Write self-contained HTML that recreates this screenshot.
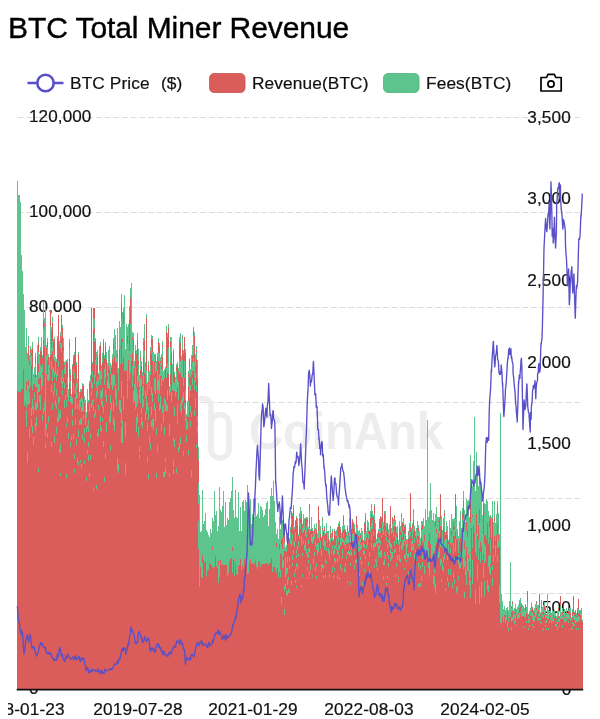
<!DOCTYPE html>
<html><head><meta charset="utf-8"><style>
html,body{margin:0;padding:0;background:#fff;width:600px;height:719px;overflow:hidden}
body{position:relative;font-family:"Liberation Sans",sans-serif;color:#000}
.t,.lg,.yl,.yr,.xlw{will-change:transform}
.t{position:absolute;left:8px;top:13px;font-size:30px;line-height:30px;letter-spacing:-0.08px;white-space:nowrap;color:#000;-webkit-text-stroke:0.4px #000}
.lg{position:absolute;top:75px;-webkit-text-stroke:0.2px #111;font-size:16px;line-height:18px;letter-spacing:0.1px;transform:scaleX(1.08);transform-origin:0 50%;white-space:nowrap;color:#111}
.yl,.yr{position:absolute;-webkit-text-stroke:0.2px #111;font-size:16.5px;line-height:16.5px;white-space:nowrap;color:#111;letter-spacing:0.1px}
.yl{transform:scaleX(1.035);transform-origin:0 50%}
.yr{text-align:right;transform:scaleX(1.04);transform-origin:100% 50%}
.xlw{position:absolute;left:8.3px;top:0;width:592px;height:719px;overflow:hidden}
.xl{position:absolute;top:702.2px;-webkit-text-stroke:0.2px #111;width:120px;margin-left:-8.3px;text-align:center;font-size:16.6px;line-height:16.6px;letter-spacing:0.1px;white-space:nowrap;color:#111;transform:scaleX(1.04)}
svg{position:absolute;left:0;top:0}
</style></head><body>
<div class="t">BTC Total Miner Revenue</div>
<svg width="600" height="719" viewBox="0 0 600 719">
<line x1="27.5" y1="83" x2="63.5" y2="83" stroke="#5a50c8" stroke-width="2.6"/>
<circle cx="45.5" cy="83" r="8.2" fill="#fff" stroke="#5a50c8" stroke-width="2.6"/>
<rect x="209.5" y="73.5" width="35.5" height="19" rx="4.5" fill="#da5d5b" stroke="#c95250" stroke-width="0.8"/>
<rect x="383.5" y="73.5" width="35.5" height="19" rx="4.5" fill="#5cc48c" stroke="#50b07c" stroke-width="0.8"/>
<g fill="none" stroke="#000" stroke-width="1.7" stroke-linejoin="round">
<path d="M541 77.5H546.5L548 74.3H554.3L555.8 77.5H561.2V91H541Z"/>
<circle cx="551" cy="84" r="3.1"/>
</g>
<g stroke="#dcdcdc" stroke-width="1" stroke-dasharray="6 2.7"><line x1="17.5" y1="117.5" x2="580" y2="117.5"/><line x1="17.5" y1="212.5" x2="580" y2="212.5"/><line x1="17.5" y1="307.5" x2="580" y2="307.5"/><line x1="17.5" y1="402.5" x2="580" y2="402.5"/><line x1="17.5" y1="498.5" x2="580" y2="498.5"/><line x1="17.5" y1="593.5" x2="580" y2="593.5"/></g>
</svg>
<div class="lg" style="left:70.2px">BTC Price</div>
<div class="lg" style="left:161.2px">($)</div>
<div class="lg" style="left:252.2px">Revenue(BTC)</div>
<div class="lg" style="left:426.2px">Fees(BTC)</div>
<div class="yl" style="left:28.7px;top:107.55px">120,000</div><div class="yl" style="left:28.7px;top:202.85px">100,000</div><div class="yl" style="left:28.7px;top:298.25px">80,000</div><div class="yl" style="left:28.7px;top:679.55px">0</div><div class="yr" style="right:29.2px;top:108.55px">3,500</div><div class="yr" style="right:29.2px;top:190.25px">3,000</div><div class="yr" style="right:29.2px;top:271.95px">2,500</div><div class="yr" style="right:29.2px;top:353.65px">2,000</div><div class="yr" style="right:29.2px;top:435.45px">1,500</div><div class="yr" style="right:29.2px;top:517.15px">1,000</div><div class="yr" style="right:29.2px;top:598.85px">500</div><div class="yr" style="right:29.2px;top:680.55px">0</div>
<svg width="600" height="719" viewBox="0 0 600 719">
<g fill="none" stroke="#ededed" stroke-width="5.6" stroke-linecap="round">
<path d="M201 398.5H203A8 8 0 0 1 211 406.5V449A9 9 0 0 0 229 449V423.5A9 9 0 0 0 211 423.5"/>
</g>
<text x="249" y="448.8" font-family="Liberation Sans" font-weight="bold" font-size="52" fill="#ededed" textLength="194" lengthAdjust="spacingAndGlyphs">CoinAnk</text>
<g>
<path d="M17 689V386H18V386H19V386H20V386H21V383H22V383H23V337.8H24V350.9H25V363.5H26V343.6H27V360.3H28V344.5H29V360.7H30V349.6H31V353H32V347.6H33V383.3H34V378.6H35V357H36V378H37V349.4H38V343.2H39V362.7H40V350.9H41V347.8H42V357.6H43V309H44V322.5H45V326.7H46V348.4H47V341.8H48V356.5H49V360.1H50V310H51V330.7H52V322.5H53V341.7H54V339H55V361.6H56V361.5H57V338.8H58V315H59V344.3H60V335.5H61V315H62V328.4H63V346.5H64V364.6H65V366H66V362.3H67V363H68V391.1H69V342.6H70V371.1H71V396.3H72V366.2H73V357.5H74V354.9H75V337H76V365.2H77V381.6H78V353.7H79V396.1H80V391.6H81V391.1H82V386.1H83V386H84V400.5H85V401.6H86V416.1H87V398.8H88V402.9H89V384.3H90V381.1H91V308H92V364.4H93V308H94V308H95V340.5H96V354.5H97V355.5H98V375.1H99V350.6H100V344.7H101V367H102V356.1H103V341.5H104V358.2H105V346.1H106V355.2H107V373.5H108V354.6H109V349.5H110V367H111V367.7H112V358.8H113V342.8H114V339.9H115V352.5H116V360.5H117V333.5H118V380.9H119V335.5H120V334.8H121V302.9H122V324.8H123V313.4H124V333.5H125V366.9H126V344.5H127V335.5H128V335.3H129V319.2H130V297.7H131V334.8H132V336.7H133V339.8H134V367.6H135V351H136V353.6H137V340.3H138V358H139V382.8H140V357.3H141V365.8H142V376.4H143V341.8H144V328H145V365H146V317.7H147V394.3H148V364.8H149V376.5H150V351.2H151V338.5H152V339H153V355.6H154V357.4H155V356.4H156V364.9H157V356.8H158V342.2H159V346.7H160V360.7H161V357.7H162V344.9H163V374.6H164V373.9H165V369H166V331.9H167V337.1H168V328.1H169V388.1H170V341.9H171V342.1H172V374.9H173V351.9H174V374.5H175V381.6H176V366.8H177V365.4H178V371.3H179V341H180V336H181V361.1H182V337.4H183V354.2H184V337H185V352.7H186V416.8H187V405.6H188V373.9H189V361H190V373.2H191V362.3H192V354.6H193V329.9H194V336.2H195V357H196V349.8H197V365H198V457.7H199V581H200V561.6H201V552.3H202V541.1H203V543.7H204V541.9H205V546.3H206V550.6H207V547.2H208V550H209V554.9H210V540.1H211V547.2H212V541.8H213V541.1H214V547.6H215V545.1H216V544.7H217V553H218V541.1H219V532.8H220V549.9H221V532.6H222V542.9H223V538.3H224V550.8H225V550.9H226V548.3H227V550.5H228V554.7H229V548H230V545.3H231V543.2H232V540.7H233V541.7H234V554.5H235V545.6H236V543.4H237V549.8H238V552.9H239V555.5H240V554.9H241V559.5H242V558.5H243V551.4H244V554.4H245V546.8H246V549.1H247V550.3H248V547.7H249V554.3H250V554.6H251V559H252V561.2H253V561.1H254V561.6H255V559H256V557.8H257V559.6H258V557H259V558.1H260V559.8H261V562.1H262V563.1H263V563H264V563H265V563.4H266V562.4H267V561.3H268V560.2H269V557H270V554.2H271V550.8H272V541.8H273V540H274V536.2H275V548.5H276V542.8H277V550.4H278V543.9H279V523.6H280V535.7H281V527.5H282V529.3H283V533.4H284V534.1H285V550.7H286V549.7H287V536.1H288V532H289V539.5H290V529.7H291V512.2H292V516H293V507.7H294V528.7H295V521.3H296V518H297V521H298V535.6H299V518.2H300V511.4H301V514.2H302V525.1H303V519.4H304V520.1H305V519.4H306V518.6H307V519.8H308V528.6H309V504H310V531.3H311V520.6H312V530.8H313V533.2H314V528.1H315V532.3H316V529.1H317V534.3H318V506H319V525.5H320V528.1H321V538.8H322V518.9H323V531.8H324V527.9H325V535H326V524.7H327V531.9H328V533.3H329V542.1H330V532.5H331V538.4H332V530.7H333V540.6H334V530.8H335V533.7H336V535.6H337V528.3H338V525.5H339V524H340V529.4H341V537.2H342V528.1H343V517.1H344V529H345V531.3H346V534.7H347V528H348V533.2H349V522H350V543.1H351V531.4H352V520.4H353V523.8H354V528.7H355V534.9H356V516H357V531.4H358V534H359V534.6H360V535.1H361V531.7H362V536.1H363V541.4H364V523.8H365V515.9H366V534.9H367V523H368V523.2H369V531.3H370V512.8H371V506H372V513H373V517.1H374V506.2H375V525.7H376V542.1H377V534.8H378V531H379V521.4H380V517.2H381V519.4H382V498H383V523.6H384V513.6H385V519.6H386V529.5H387V524.6H388V530.7H389V527.8H390V506H391V529.6H392V518.4H393V524.3H394V516.1H395V521.7H396V528.7H397V529.1H398V541.2H399V523.3H400V530H401V515.2H402V523.4H403V522.2H404V526.8H405V525.8H406V540.2H407V543.8H408V533.3H409V525.1H410V493H411V529.7H412V525H413V511.2H414V529.1H415V533.2H416V531.4H417V522H418V527.7H419V537.8H420V540.1H421V527.2H422V524.5H423V520.5H424V529.3H425V516H426V526.6H427V521.8H428V528H429V527.8H430V522.8H431V526H432V529H433V524.4H434V531.7H435V520.8H436V511H437V525.9H438V521H439V519.1H440V494H441V518.6H442V532.9H443V521.1H444V512.8H445V534.9H446V527H447V533.7H448V542.4H449V522.8H450V532.1H451V518.9H452V522.2H453V522.4H454V524.1H455V494H456V510.2H457V534.4H458V539.1H459V523.9H460V517.1H461V535.5H462V514.4H463V500.6H464V515.5H465V535H466V521.3H467V521.4H468V513.7H469V549.9H470V496.9H471V493.4H472V498.9H473V505.3H474V499.6H475V510.1H476V495.3H477V516.8H478V510.8H479V504.7H480V512.1H481V501.8H482V524.3H483V504.4H484V513.4H485V522.5H486V507.2H487V516.5H488V523.9H489V520.7H490V518.3H491V522.3H492V510.8H493V525.4H494V515.8H495V528.2H496V520.3H497V505.3H498V521H499V542.9H500V617H501V619H502V607.8H503V614.4H504V611.6H505V613.8H506V610.8H507V610.1H508V611.5H509V607H510V607.3H511V607.3H512V602.2H513V611.3H514V609.5H515V608.4H516V612.3H517V610.3H518V608.9H519V601.5H520V599.9H521V603.7H522V607.8H523V607.8H524V610.4H525V605.5H526V610.5H527V591H528V615.4H529V612.6H530V609.7H531V604.8H532V607.8H533V611H534V611.1H535V607.1H536V602.4H537V606.8H538V606.9H539V594H540V612.9H541V601.8H542V608.3H543V606H544V604.8H545V607.5H546V615.1H547V610.4H548V611.2H549V611.8H550V612.7H551V613.2H552V611.9H553V613.6H554V613.9H555V615.1H556V616.8H557V612.3H558V607.9H559V616.7H560V596H561V613.5H562V611H563V611.9H564V612H565V613.9H566V611.5H567V614.6H568V610.8H569V610.3H570V610.3H571V618.1H572V610.6H573V596H574V613.2H575V611.4H576V614H577V609.9H578V599H579V611.8H580V611.7H581V610.6H582V622.4H583V689Z" fill="#da5d5b" shape-rendering="crispEdges"/>
<path d="M17.5 181V390.5M18.5 195V392M19.5 195V390.5M20.5 202V392M21.5 255V389M22.5 271V389M23.5 293.5V369.2M24.5 309.6V405.6M25.5 347.1V402.6M26.5 328.4V352.6M26.5 354V381.9M26.5 390.5V407.6M26.5 409.8V426.6M27.5 352.6V382.2M27.5 383.1V404.9M27.5 452.1V463M28.5 335.9V344.5M28.5 361.1V380.2M28.5 385.7V403.7M29.5 355.1V360.7M29.5 365.1V387.6M29.5 392.8V403.8M29.5 428.4V438.4M30.5 346.2V349.6M30.5 352.9V385.7M31.5 349.1V353M31.5 355.9V366.4M31.5 407.7V416.3M31.5 418.6V427.2M32.5 342.3V347.6M32.5 368.7V389.8M32.5 399.4V409.2M32.5 425.5V433.3M33.5 374.1V385.3M33.5 406.4V414M33.5 436.5V445.4M34.5 366.8V384.1M34.5 392V399.7M35.5 353.3V357M35.5 362.7V374.1M35.5 377.6V386.6M35.5 401.8V409.7M35.5 423.3V430.6M36.5 374.7V386.8M36.5 403.4V410.4M36.5 417V425.7M37.5 344.7V356.4M37.5 377.2V388M37.5 388.8V407.6M38.5 337V343.2M38.5 352.1V363.5M38.5 371.7V379.4M38.5 383.8V392.4M38.5 468.2V472.3M39.5 354.2V378.3M39.5 383.8V392M39.5 394.8V402.2M40.5 347.1V350.9M40.5 365V376.8M40.5 394.8V409.8M41.5 336.7V351.5M41.5 367.1V389.8M42.5 354.7V357.6M42.5 364.1V373.4M42.5 375V386.2M42.5 415.1V421.1M43.5 302.4V319.9M43.5 329.4V340.3M43.5 407.8V414.3M44.5 318.3V322.5M44.5 327.4V345.8M44.5 401.2V410.5M45.5 308V436.4M45.5 443.2V447.8M46.5 345.2V348.4M46.5 356.4V373.5M46.5 423.7V429.2M47.5 337.5V341.8M47.5 346.5V360.3M47.5 373.5V379.9M47.5 432.6V438M48.5 354.4V356.5M48.5 365V380.9M48.5 415.9V422.7M49.5 356.6V368.2M49.5 369.3V379.9M50.5 309.6V310M50.5 326.1V354.6M51.5 326.8V330.7M51.5 346.6V354.2M51.5 360.5V369.4M51.5 384.9V392.1M51.5 441.9V447.4M52.5 317.4V322.5M52.5 340.5V351.3M52.5 368.8V380.7M52.5 403.2V410.4M53.5 338.9V341.7M53.5 349.3V358.7M53.5 366.6V372.9M53.5 390.5V397.4M54.5 336.9V339M54.5 355.3V360.8M54.5 371.9V378M54.5 383.1V391M54.5 435.8V442.8M55.5 357.2V374.5M55.5 399.7V406.3M56.5 358.8V361.5M56.5 373.7V381.1M56.5 388.7V395.9M56.5 403.7V409M56.5 427.4V433.7M57.5 336.1V338.8M57.5 369.2V376.4M57.5 416.8V423.1M58.5 314.6V315M58.5 361.4V366.6M58.5 397V403.5M58.5 409.3V414.5M58.5 415V421.3M59.5 340.5V344.3M59.5 397.2V402.4M59.5 413.3V419.6M59.5 449V453.1M60.5 331.5V335.5M60.5 343.4V348.2M60.5 409.8V417.5M60.5 443.7V451.7M60.5 472.5V475.5M61.5 314.6V315M61.5 330.5V337.6M61.5 342.8V352.3M61.5 377.3V383.7M62.5 324.7V328.4M62.5 369.7V378.1M62.5 381.2V388.3M62.5 389.8V394.9M63.5 337.9V346.6M63.5 351.4V361.4M63.5 378V383.1M64.5 362.3V364.6M64.5 366.5V373.6M64.5 382.5V388.9M64.5 400.4V408.3M65.5 360.8V373.5M65.5 395.3V400.4M66.5 359.9V362.3M66.5 399.7V406.7M66.5 422.9V426.8M66.5 474.2V477.5M67.5 358.9V363M67.5 376.7V385.3M67.5 387.4V396.8M67.5 416.9V422.4M68.5 388.8V401.1M68.5 432.7V439M69.5 339.2V342.6M69.5 347.2V358.7M69.5 376.7V382.6M70.5 368.7V375.3M70.5 381.2V387.5M70.5 396.2V401.8M70.5 441.7V447.4M71.5 393.5V403.6M71.5 436.3V439.5M72.5 364.4V366.2M72.5 397.7V403.6M72.5 408.6V416.1M72.5 420.3V426.2M73.5 354.7V357.5M73.5 368.9V374M73.5 382.8V393.1M73.5 434V439M74.5 352V354.9M74.5 373V379.3M74.5 454.1V458.5M74.5 468.9V473.4M75.5 336.6V337M75.5 387V393.8M75.5 397.4V409M75.5 418.8V425M76.5 362.4V365.2M76.5 383.1V391.2M76.5 391.8V399.1M76.5 438.6V445.3M77.5 379.4V381.6M77.5 382.2V386.7M77.5 393.2V397.8M77.5 403.4V409.4M77.5 458V462.6M78.5 351.9V353.7M78.5 429.9V436.5M78.5 461.9V464.9M79.5 392.2V398.2M79.5 399.6V410M79.5 420.2V425.2M80.5 389.4V391.6M80.5 398.9V406.5M80.5 419.3V424.1M80.5 459.8V463.1M81.5 389.4V391.1M81.5 397.4V402M81.5 407.3V412.2M81.5 416.8V425M81.5 464.1V467.8M82.5 383.4V386.1M82.5 399.2V410.8M82.5 434.3V439.8M83.5 383.6V386M83.5 401.5V412.4M83.5 414.5V419.2M84.5 395.9V402.8M84.5 427.5V434M84.5 437.2V442.9M84.5 460.1V464.4M85.5 399.7V401.6M85.5 402.3V412.9M85.5 413.3V424.7M86.5 411.7V417.5M86.5 426.7V431.9M86.5 477.3V480.9M87.5 389.1V402.7M87.5 425.3V428.7M87.5 449.5V454M88.5 400.4V402.9M88.5 420.2V424.8M88.5 426.1V431.6M88.5 441.8V447.3M88.5 455.1V461.2M89.5 381.3V384.3M89.5 393.9V400.9M89.5 404.3V411.8M89.5 473.1V476.7M90.5 375.4V381.6M90.5 434.3V438.6M90.5 455.3V459.6M91.5 307.6V308M91.5 381.2V387.6M91.5 390.2V395.9M91.5 403V407.6M92.5 361.6V364.4M92.5 370.5V376.9M92.5 382.9V389.3M92.5 399.5V405.3M93.5 307.6V308M93.5 318.2V329.9M93.5 398.5V402.1M93.5 405.8V410.6M93.5 487.4V491.4M94.5 307.6V308M94.5 319.4V327.5M94.5 333.9V342.1M94.5 374.5V384.2M94.5 414.3V418.3M95.5 338V340.5M95.5 359.7V376.8M95.5 409.9V415.4M96.5 351.7V354.5M96.5 355.9V364.9M96.5 381.6V388.1M96.5 391.3V398.1M96.5 484.6V488.7M97.5 349.6V355.9M97.5 377.2V384M97.5 387.2V394.5M97.5 432.6V437.1M98.5 372.8V375.1M98.5 379.8V386.2M98.5 405.2V410.1M98.5 429.1V435.6M99.5 345.6V353.8M99.5 370.3V379.7M100.5 341.9V344.7M100.5 371.4V384.6M100.5 390.7V398.6M100.5 416.1V421.7M100.5 424.8V430.8M101.5 365.4V367M101.5 367.8V378.6M101.5 390.5V396.9M101.5 398.3V404.9M101.5 427.5V431.7M102.5 353.3V363.1M102.5 388.3V398M102.5 400.8V407.4M102.5 417.9V421.4M103.5 338.5V341.5M103.5 406.1V412.6M103.5 440.7V446.6M104.5 354.8V358.2M104.5 368.9V384.5M104.5 476.5V481.8M105.5 341.8V346.1M105.5 364.2V378M105.5 390.4V395.8M105.5 453.5V458.5M106.5 351.7V360.2M106.5 394.6V401.8M106.5 422.2V432.2M107.5 362.6V375.7M107.5 379.9V388.3M108.5 349.5V365.7M108.5 372.8V388.2M109.5 346V349.5M109.5 351V370.4M109.5 383V389.9M109.5 416V423M110.5 362.7V374M110.5 395V402.9M110.5 409.5V421.5M110.5 445.3V451.4M111.5 364.6V367.7M111.5 374.4V384.6M111.5 402V410.9M112.5 353.9V358.8M112.5 374.8V390.2M113.5 338V342.8M113.5 348.6V361.8M113.5 373.9V386.5M113.5 401.1V411.2M113.5 417V424.8M114.5 329V356.1M114.5 375.4V384.5M114.5 420.4V430.6M115.5 335.4V362.8M115.5 384.4V398.8M116.5 349.9V362.1M116.5 390.2V406.3M117.5 328V354.1M117.5 358V371.7M117.5 457.7V470.3M118.5 367.7V391.2M118.5 463.9V473M119.5 321.3V348.9M119.5 400V409.9M120.5 326.5V346.8M120.5 347.5V364.4M120.5 400.4V413.2M121.5 293.6V302.9M121.5 318.9V339.4M121.5 380.6V397.9M121.5 409.1V422.9M121.5 426.5V442.8M122.5 312.3V338.8M122.5 341.6V363.1M122.5 421.3V442.5M123.5 307.5V313.4M123.5 323.7V357.2M123.5 396V410.4M124.5 295V371.1M125.5 349.2V370.8M125.5 422V436.7M125.5 462.7V474.5M126.5 324.1V370M127.5 326.9V335.5M127.5 343.9V382.1M127.5 382.5V399.3M128.5 324.2V360.2M129.5 306.3V319.8M129.5 351.2V379.8M130.5 287.9V297.7M130.5 323.9V354.8M130.5 357.1V373.4M131.5 283V361.3M132.5 331.5V336.7M132.5 339.6V352.7M132.5 365.6V386.6M133.5 333.2V339.8M133.5 349.6V374.9M133.5 391.3V403.2M134.5 361.4V367.6M134.5 384.1V401.1M135.5 345.2V351M135.5 366.9V409.4M136.5 349.8V353.6M136.5 388.2V406.8M136.5 417.2V431.8M137.5 332.8V340.3M137.5 375.8V387.1M137.5 394.4V403.6M137.5 413.3V423M138.5 349.2V361.2M138.5 364.9V380.9M138.5 426.8V436.9M139.5 375.3V387.1M139.5 388.8V399.4M139.5 445.8V452M139.5 454.7V459.4M140.5 351.4V357.3M140.5 361.3V369.9M140.5 379.4V392M140.5 392.6V403.2M141.5 361V365.8M141.5 377.2V385.8M141.5 407.6V413.9M141.5 417.3V425.1M142.5 371.9V376.4M142.5 387.3V400.5M142.5 401.1V407.9M142.5 421.6V428.3M143.5 338.4V341.8M143.5 344.9V356.5M143.5 375.3V383.5M143.5 384.5V396.2M143.5 398.9V407M144.5 324.2V339.7M144.5 351.3V373.1M145.5 361.9V365M145.5 365.5V373.5M145.5 389.5V398.3M145.5 411.8V420.1M146.5 313.9V317.7M146.5 371.4V383.5M146.5 396.4V413.7M147.5 382.3V394.8M147.5 403.2V410.3M147.5 423.3V431.4M147.5 456.5V462.2M148.5 361.1V364.8M148.5 371.9V381.1M148.5 406.8V420.2M148.5 473.7V479M149.5 371V380.6M149.5 380.7V389.4M149.5 435.6V442.5M150.5 346.6V351.2M150.5 365.2V375.4M150.5 443.2V449.6M151.5 335.1V338.5M151.5 345V353.7M151.5 386.5V395.4M151.5 406.7V414.5M151.5 420.9V426.9M152.5 335.8V339M152.5 352.4V361.3M152.5 393V402.1M152.5 419V426.6M153.5 352V375.3M153.5 418.9V429.5M154.5 353.8V361.9M154.5 378.1V391.3M154.5 402.7V410.3M155.5 353.5V356.4M155.5 363V373.1M155.5 378.5V393.7M155.5 409.4V421M156.5 361.4V370.7M156.5 427.5V435M156.5 472.9V478.2M157.5 352.5V356.8M157.5 370.1V393M157.5 444.9V451.5M158.5 338.4V342.2M158.5 353V361M158.5 380.3V389.6M158.5 393.5V402M159.5 342.8V346.7M159.5 353.3V363.4M159.5 373.9V381.5M159.5 382.1V393.6M159.5 403.6V410.7M160.5 357.3V360.7M160.5 363.3V375.8M160.5 395.7V408.9M161.5 353.7V365.2M161.5 368.5V376.1M161.5 377.6V386M161.5 424.2V431.1M162.5 340.6V344.9M162.5 346.5V357.1M162.5 369.5V379.9M162.5 405.9V412.5M163.5 370.5V374.6M163.5 375V382.4M163.5 404.1V412.6M163.5 414.4V423.1M163.5 471.6V476.8M164.5 368.6V378.1M164.5 398.2V403.5M164.5 427V435M164.5 472.3V477.3M165.5 366.5V369M165.5 399.6V410.6M165.5 457.7V461.6M165.5 467.4V474.2M166.5 326.3V331.9M166.5 368.4V377.7M166.5 402.9V410.9M167.5 332.6V337.1M167.5 363.8V372.5M167.5 389.5V400.3M167.5 405.2V410.5M168.5 323.7V328.1M168.5 348.3V373.7M169.5 385.6V395.1M169.5 424.1V435.9M169.5 472.8V477.3M170.5 336.9V341.9M170.5 347.4V362.6M170.5 365.2V374M170.5 384.6V392M171.5 336.5V352.7M171.5 392V401.7M172.5 364.4V389.5M173.5 349.3V351.9M173.5 381.5V391.3M173.5 437.5V441.3M173.5 459.9V466.8M173.5 469.4V473.9M174.5 371.5V374.5M174.5 383.4V391.4M174.5 406.9V416.2M174.5 439.5V446.6M175.5 377.3V385.1M175.5 385.6V396.1M176.5 364.1V366.8M176.5 371.4V392.1M176.5 468.2V472.7M177.5 362.4V365.4M177.5 378.9V386.8M177.5 403.7V416.6M177.5 417.9V423.9M178.5 368.3V371.3M178.5 382.3V400.3M178.5 446.5V451.7M179.5 336.9V341M179.5 358.6V374.2M179.5 443.3V448.8M180.5 333.2V343.2M180.5 360.6V371.5M180.5 403.5V411.3M180.5 436.6V444.2M181.5 356.4V366.4M181.5 366.5V376.6M181.5 399.6V406.6M181.5 407.8V414.1M182.5 334.8V337.4M182.5 338.4V350.1M182.5 360.3V377.3M182.5 397.2V403M183.5 350.3V354.2M183.5 376.9V385.9M183.5 392V401.3M183.5 450.8V455.7M184.5 336.6V337M184.5 360.6V377.5M184.5 402.7V408.8M185.5 348.7V352.7M185.5 390.5V400.3M185.5 404.9V421M186.5 414.2V416.8M186.5 418.5V430.3M186.5 434.7V441.5M187.5 401.2V416M187.5 422V429.4M188.5 370.6V373.9M188.5 377.1V386.3M188.5 401.3V416.6M188.5 449.5V454.5M189.5 357.7V361M189.5 367.1V377.3M189.5 384.5V398M190.5 368.9V377.2M190.5 385.2V391.1M190.5 406V411.9M190.5 421V427.1M191.5 355.3V364.3M191.5 365.7V375.3M191.5 411.7V417.1M191.5 469.7V476.8M192.5 345.4V355.5M192.5 361.6V371.1M192.5 378V384.5M193.5 327.1V329.9M193.5 335.1V355.2M193.5 357.9V370.7M194.5 332.1V336.2M194.5 361.8V377.9M194.5 379.8V389.5M194.5 410.3V415.7M195.5 354.3V365.7M195.5 373.2V381.5M195.5 398V408.4M196.5 346.3V349.8M196.5 351.9V359.3M196.5 384.8V392.1M196.5 443.7V447.5M197.5 360.4V368.6M197.5 369.3V378.8M197.5 416V422M197.5 426.1V432.5M198.5 447.1V459.9M198.5 482.5V504.2M198.5 520.8V548.9M199.5 495V587M200.5 532.2V567.1M201.5 530.8V576.9M202.5 490V555.1M202.5 563.2V577.5M203.5 523.9V559.6M204.5 521.1V563M205.5 513.2V561.3M206.5 530.1V576.2M207.5 531.8V571.1M208.5 535.1V569.6M209.5 537.3V561.8M210.5 528.6V563.5M211.5 533.2V565.1M212.5 518.2V546.9M212.5 549.8V567.2M213.5 521V568.2M214.5 491V567.3M215.5 515V555.6M216.5 511.4V566.1M217.5 530.9V567.6M218.5 525.8V561.2M218.5 565.4V583.2M219.5 487.3V576.8M220.5 509.7V560.3M221.5 511.7V564.7M222.5 505.6V563.7M223.5 490.5V564.8M224.5 527.4V565.2M225.5 502.4V565.4M226.5 525.1V565.1M227.5 517.7V575.5M228.5 520V572.6M229.5 501.6V561.1M230.5 498.4V559.3M231.5 491V557.7M232.5 477.2V546.6M232.5 551.3V572.8M233.5 509.5V560.2M234.5 517.7V558.8M234.5 561V576.1M235.5 490V562.8M236.5 517.1V574M237.5 517.7V574.7M238.5 492.1V566.3M239.5 530.5V565.3M240.5 507V558.6M241.5 531.2V569.7M242.5 502.2V566M243.5 499.7V567.7M244.5 511.3V559.1M245.5 500V564.9M246.5 501.7V556.7M247.5 485V573.7M248.5 496.8V572.6M249.5 509.5V561.7M250.5 499.3V558.8M251.5 524.4V563.7M252.5 514.4V563.3M253.5 499V564.4M254.5 516.6V564M255.5 497.5V561.3M256.5 515.6V567M257.5 513.9V569.2M258.5 503.4V561.8M259.5 518.3V561.1M260.5 506.3V567.1M261.5 506.7V563.9M262.5 509.5V563.7M263.5 516.6V563.7M264.5 514.6V564.3M265.5 508.8V563.6M266.5 503.4V563.2M267.5 500.5V564.2M268.5 526V564.9M269.5 509.2V563M270.5 495.5V563.2M271.5 488.2V557.9M272.5 495.9V572M273.5 481V567M274.5 501.3V567.4M275.5 522.3V569.5M276.5 533.8V542.8M276.5 547.4V572.7M277.5 528.6V567.6M278.5 539.2V578.2M279.5 517.1V543.8M279.5 549.4V571.7M280.5 529.4V541.1M280.5 541.4V554.1M280.5 569.5V576.7M281.5 515.6V540.4M281.5 544V553.9M281.5 597.1V603.5M282.5 520.3V537.8M282.5 549.4V558.3M282.5 559V568.1M283.5 520V533.4M283.5 538.1V555.8M283.5 559.6V568.2M284.5 531.6V534.1M284.5 542.9V551M284.5 585.8V591M284.5 609.2V615.1M285.5 547.3V550.7M285.5 556.7V565.7M285.5 565.9V577.7M285.5 584.2V589M286.5 545.2V552.4M286.5 568.4V575.3M286.5 589.8V594.8M287.5 533.2V536.1M287.5 557.1V563M287.5 568V572.9M287.5 579.3V585M287.5 591.1V595.5M288.5 526.2V537.6M288.5 576.6V579.7M288.5 589.4V592.9M289.5 538.1V539.5M289.5 556.6V560.7M289.5 565.4V569.1M289.5 589.4V593.4M290.5 527.3V529.7M290.5 532.2V544.4M291.5 510.6V512.2M291.5 519.4V524.1M291.5 540V546.2M291.5 581V584.9M292.5 513.3V516M292.5 533.8V539.6M292.5 554.9V560.1M292.5 563.1V566.4M293.5 505.4V507.7M293.5 526.1V530.3M293.5 541.2V544.5M293.5 550V554M294.5 526.7V528.7M294.5 541V546.5M294.5 573V576.6M295.5 519.8V521.3M295.5 532.2V536.9M295.5 537.1V541.3M295.5 568.8V572.1M295.5 580.2V582.7M296.5 515.9V518M296.5 550.4V554.2M296.5 555.4V558.1M296.5 563.3V567.1M296.5 586.1V588.1M297.5 518V524.5M297.5 545.8V550.2M297.5 564.4V568.8M298.5 533.9V535.6M298.5 540.7V546.8M298.5 553.9V557.1M299.5 513.3V519M299.5 520.5V526.4M299.5 534.9V539.3M300.5 506.9V518.5M300.5 523.9V529.3M301.5 511V514.2M301.5 535.7V540.5M301.5 540.9V545M301.5 584.7V587.3M302.5 523.5V525.1M302.5 527.7V533.2M302.5 552.5V556.1M302.5 574.1V577.2M303.5 514.2V520.9M303.5 524.9V532M303.5 539.5V544.3M304.5 517.7V530.4M304.5 544.8V549.5M305.5 518V519.4M305.5 529.9V536.1M305.5 540.5V550.6M306.5 516.5V518.6M306.5 526.7V533.4M306.5 533.5V537.6M306.5 549.3V553.5M307.5 517.2V519.8M307.5 522.1V528.8M307.5 552.2V557.2M307.5 567.2V569.8M307.5 576.9V579.4M308.5 527.1V528.6M308.5 540.2V544.1M308.5 547.9V551.5M308.5 553.7V557.7M308.5 560.1V562.5M309.5 503.6V504M309.5 510V517.9M309.5 528.3V533.3M309.5 547.9V552.9M309.5 570.6V575M310.5 529.2V531.3M310.5 563.5V569.8M311.5 516.9V528.6M311.5 534.4V541.9M312.5 528.2V530.8M312.5 536.6V543.6M312.5 574.8V577.4M313.5 530.6V541.8M313.5 558.6V563.7M314.5 523.5V528.7M314.5 533.5V539M314.5 552V556.4M315.5 527.7V533.7M315.5 540.5V545.7M315.5 567.1V570.5M316.5 522.8V529.9M316.5 544.9V549.6M316.5 563.3V566.7M316.5 576.1V578.5M317.5 532.8V538.7M317.5 542.6V546.8M317.5 548.3V554.7M318.5 505.6V506M318.5 531.4V538M318.5 543.4V551.6M319.5 519.7V541.2M320.5 526.2V533.8M320.5 541V549.3M321.5 537.1V538.8M321.5 549.6V555.6M321.5 563.9V566.8M321.5 567.5V571.8M322.5 516.8V518.9M322.5 520.1V527.5M322.5 529.8V535.5M322.5 564.5V567.5M323.5 530V531.8M323.5 536.9V540.5M323.5 540.9V545.4M323.5 565.1V569M323.5 574.9V578.1M324.5 525.5V527.9M324.5 530.7V535.3M324.5 539.7V549.6M325.5 533.2V535M325.5 540.8V546.7M325.5 559.2V561.7M325.5 575.4V578M326.5 522.6V532.9M326.5 547.4V550.6M326.5 561V564.1M327.5 530.5V542.5M328.5 530.6V537.6M328.5 548.4V554.1M329.5 540.2V542.1M329.5 543.4V547.1M329.5 550.4V558.6M329.5 574.3V577.8M330.5 525.8V533.9M330.5 537.7V543M331.5 532.8V538.8M331.5 550.7V554M332.5 528.7V530.7M332.5 536.8V541.1M332.5 544.7V550.4M332.5 567V570.2M332.5 570.8V573.2M333.5 538.7V540.6M333.5 549.9V554.8M333.5 564.7V567.1M333.5 574.6V577.6M334.5 529.2V530.8M334.5 545.1V549.2M334.5 549.9V554.3M334.5 557.9V561.2M334.5 567.5V571.3M335.5 531.1V536M335.5 546.1V549.2M335.5 559.3V563.1M336.5 529.9V536.2M336.5 538.5V541.7M336.5 542.2V545.5M336.5 547.1V549.9M337.5 526.6V528.3M337.5 533.8V538.9M337.5 550.3V554.3M337.5 557.9V561.9M337.5 575.3V578.7M338.5 523.4V525.5M338.5 536.7V542.2M338.5 544.7V551.4M338.5 552.1V554.7M339.5 521.2V524M339.5 544.5V548.7M339.5 555.9V559.3M339.5 577V579.6M340.5 527V529.4M340.5 537.6V545.6M340.5 563.9V569.2M341.5 533.2V537.6M341.5 537.9V540.5M341.5 541.8V544.8M341.5 567.7V571.4M342.5 525.6V531.8M342.5 537.5V541.6M342.5 549.4V553.8M342.5 554.9V557.5M343.5 514.5V517.1M343.5 525.4V529.7M343.5 533.1V536.9M343.5 539.6V542.9M344.5 525.3V529.6M344.5 540.9V544.7M344.5 567.3V572M345.5 529V531.3M345.5 537.8V541.9M345.5 543.9V548M345.5 562.8V565.5M345.5 569.1V572.4M346.5 532.1V534.7M346.5 536.1V543.6M346.5 556V559.4M347.5 525.4V528M347.5 531.4V535.8M347.5 538.2V542.9M347.5 552.1V555.4M347.5 580.9V583.4M348.5 531.2V533.2M348.5 535.4V543M348.5 550.5V553.8M349.5 518.3V525.7M349.5 531.7V535.5M349.5 544.7V548.9M349.5 552.4V557M350.5 541.5V543.1M350.5 549.5V554.6M350.5 562.7V566.2M350.5 582.4V584.8M351.5 529.3V531.4M351.5 534.2V537.6M351.5 540.7V544.4M351.5 546.2V549.9M351.5 552V556M352.5 518.7V520.4M352.5 533.7V540.8M353.5 521.5V523.8M353.5 532.7V545.4M354.5 524.3V529.3M354.5 535.9V540.9M354.5 551V554.6M354.5 565.2V568.5M355.5 532V540.3M355.5 559.5V563.5M356.5 515.6V516M356.5 528.3V534M356.5 543.9V548M356.5 559.2V563.1M357.5 525.4V534.3M357.5 545.5V549.8M358.5 531.1V536M358.5 541.5V547.4M358.5 547.6V551.5M359.5 530.3V537.5M359.5 538.6V544.9M359.5 546.3V550.5M359.5 573.2V576M360.5 533V535.1M360.5 537.6V542.4M360.5 545.2V549.8M360.5 556.6V559.8M361.5 528.2V538.3M361.5 543.4V547.8M361.5 560.9V564.6M362.5 530.7V538.5M362.5 582V585M363.5 540V541.4M363.5 541.8V546.8M363.5 550.4V554.9M363.5 583.6V586M364.5 522.2V523.8M364.5 534.4V540.6M364.5 544.4V547.6M364.5 550.5V553.6M364.5 569.1V571.9M365.5 513.1V515.9M365.5 532.4V541.4M365.5 555.2V558.9M366.5 531V537.8M366.5 544.6V548.9M367.5 520.2V527M367.5 529.6V534.4M367.5 538.7V546.3M368.5 521.6V531.2M368.5 534.1V539.2M368.5 562.2V565.9M369.5 529.9V531.3M369.5 551.7V557.4M369.5 570.5V575.4M370.5 511V517.8M370.5 526.8V532.1M371.5 503.5V506M371.5 507.4V513.8M371.5 523.2V528.6M371.5 534.2V539.8M371.5 543V548.2M372.5 510.8V518.1M372.5 520.1V528.9M373.5 514.8V517.1M373.5 530.6V535.9M373.5 544.3V549.8M374.5 504.1V506.2M374.5 513.8V520.3M374.5 543.4V546.7M374.5 564.7V567.7M375.5 523.1V529.6M375.5 542.6V547.1M375.5 558.5V562.1M376.5 539.2V544.2M376.5 559V562.7M376.5 563.2V567.1M377.5 533.4V534.8M377.5 540.9V547.2M377.5 567.7V571.3M378.5 528.9V531M378.5 537.4V542.7M378.5 545.6V550.5M378.5 551.2V558M379.5 519.2V521.4M379.5 527.9V533.7M379.5 539.3V543M379.5 545.3V549.2M379.5 551.8V554.8M380.5 515.6V517.2M380.5 528.2V533.3M380.5 540.6V545.1M380.5 551.3V558.4M381.5 516.8V519.4M381.5 534.6V537.9M381.5 549.9V556.7M382.5 497.6V498M382.5 521.5V531.2M383.5 521.8V526.9M383.5 528.6V535M383.5 562.3V565.2M383.5 575.9V580.4M384.5 511V513.6M384.5 551.7V555.7M384.5 559.4V564.5M385.5 511.4V519.7M385.5 519.8V525.6M385.5 531.4V536.4M385.5 555.4V559.1M386.5 522.6V530.6M386.5 537V541.2M386.5 582.7V585.3M387.5 523V524.6M387.5 544V548.7M387.5 551.5V554.8M387.5 575.9V578.6M388.5 529V534M388.5 539.7V543.4M388.5 555.4V558.8M388.5 562.8V566.9M389.5 523.7V536.4M389.5 538.2V546.1M390.5 505.6V506M390.5 542.8V547.7M390.5 548.8V552.7M390.5 558.2V560.8M391.5 528.2V529.6M391.5 529.7V534.2M391.5 544.2V548.4M391.5 552.4V558.5M392.5 516.6V518.4M392.5 524.1V531.6M392.5 552.4V558.4M393.5 519V526.5M393.5 530.8V536.7M394.5 514.6V516.1M394.5 521.1V525.7M394.5 541.4V546.4M394.5 548.8V553M395.5 519.5V521.7M395.5 522.6V526.8M395.5 534.9V539.2M395.5 547.6V551.6M395.5 573.7V577.3M396.5 526.8V533.4M396.5 536.6V544M396.5 562.9V566.8M397.5 525.6V534.3M397.5 554.2V560.3M398.5 539.5V544.7M398.5 576.9V579.3M398.5 580.2V582.1M399.5 520.5V527.8M399.5 541.3V545.3M399.5 546.1V552.2M399.5 555.3V560.5M400.5 526.4V530.7M400.5 535.1V542M400.5 559.1V562.2M401.5 513V515.2M401.5 517.2V525.8M401.5 526.7V533.4M401.5 544.7V549M402.5 522.1V523.4M402.5 530.8V536.8M402.5 540.3V544.5M402.5 544.7V549.5M403.5 518.2V524.2M403.5 525.8V530.4M403.5 540.4V545.6M404.5 524.8V526.8M404.5 534.4V540.7M404.5 555.2V559M404.5 567.5V570.4M405.5 524.1V525.8M405.5 532.6V535.5M405.5 540.4V544.9M405.5 553.7V560.4M406.5 538.5V540.2M406.5 543.6V554.7M406.5 559.6V561.9M407.5 538.6V546.6M407.5 554.2V557.6M408.5 531.3V533.3M408.5 534.5V539.2M408.5 553.3V557.5M408.5 572.2V574.4M409.5 522.8V531.3M409.5 531.7V537M409.5 578.3V580.8M410.5 492.6V493M410.5 520.6V526.9M410.5 531.5V536.2M410.5 552.3V556.6M410.5 579V581M411.5 527.6V529.7M411.5 541.2V551.4M411.5 574V577M412.5 523.3V525M412.5 529.4V538.7M412.5 540.4V544.4M412.5 547.1V549.9M413.5 509.2V511.2M413.5 513.3V519.5M413.5 526.7V531.5M413.5 543.5V549.5M414.5 526.3V529.1M414.5 537.5V542.8M414.5 554V558.5M414.5 565.1V570M415.5 531.3V536.1M415.5 549.5V553.8M416.5 527.7V539M416.5 557.4V561.1M417.5 520.6V528.2M417.5 531.4V536.1M417.5 539.3V543.1M418.5 525.2V527.7M418.5 531.1V535.5M418.5 543.7V547M418.5 563.2V567.4M418.5 583.9V586.9M419.5 530.6V538M419.5 539.2V545.1M419.5 582.9V586.6M420.5 537.8V545.4M420.5 565V569.8M420.5 582.7V586M421.5 521.1V528M421.5 530.3V536.7M421.5 549.1V553.8M421.5 576.1V580.8M422.5 520.9V524.5M422.5 528.6V540.8M422.5 555.2V558.9M422.5 562.1V566.5M423.5 517.5V542.8M424.5 525.6V534.5M424.5 540.7V550.8M424.5 566.2V574M425.5 508.9V550.5M426.5 519.7V543.8M426.5 544V555.1M427.5 420V553.8M428.5 517.2V540.6M428.5 548.4V567.9M429.5 510.8V533.1M429.5 561.8V576.5M430.5 483.2V544.3M431.5 509.7V561.5M432.5 519.8V559M433.5 513.4V556.3M433.5 575.4V583.9M434.5 520.5V551M434.5 565.1V573.3M434.5 576.6V587.2M435.5 513.5V520.8M435.5 527.3V545.9M435.5 583.8V592.9M436.5 507V529.1M436.5 533.4V542.9M437.5 516.6V538M437.5 540.7V547.8M438.5 517.3V521M438.5 522.3V533.1M438.5 551.6V558M439.5 516.6V519.1M439.5 530.6V541.2M439.5 548.4V556.9M440.5 493.6V494M440.5 519V526M440.5 541.2V547.2M440.5 559.3V565.8M441.5 516V526.9M441.5 540.6V547.1M441.5 559V562.8M441.5 579.2V582.4M442.5 529.6V548.3M442.5 563.4V569.5M443.5 517.6V525.6M443.5 544.8V550.7M443.5 557V562M443.5 566.9V571.5M444.5 510V512.8M444.5 516.1V523.1M444.5 523.5V532.3M444.5 541.4V549.3M444.5 554.1V559M445.5 531.9V534.9M445.5 538.6V545.6M445.5 587.5V590.9M446.5 521V530.8M446.5 539.1V544.6M446.5 544.8V550M447.5 526.2V535.3M447.5 552.1V560.1M447.5 576.7V581.1M448.5 540.2V542.4M448.5 543.9V552.9M448.5 569.1V575.1M448.5 582.3V586.7M449.5 519.9V538.4M450.5 528.3V542.9M450.5 548V552.7M450.5 568.7V574.9M451.5 514.1V531M451.5 537.3V544.8M452.5 519.2V532M452.5 532.6V543.1M452.5 583.4V587.5M453.5 519.1V522.4M453.5 530V535.8M453.5 543.2V554.1M453.5 572.6V578.2M454.5 517.5V526.7M454.5 528.5V536.4M454.5 557.4V564.4M454.5 578.9V583.5M455.5 493.6V494M455.5 519.3V531.5M455.5 538.5V552.4M455.5 557.9V564.6M456.5 505.5V538.5M456.5 586.9V592.7M457.5 528.7V540.3M457.5 585.7V590.5M458.5 535.8V539.1M458.5 540.4V553.1M458.5 554.6V564.2M458.5 575.6V580M459.5 520.5V523.9M459.5 524.6V541.6M459.5 558.7V569M460.5 511.4V538M460.5 552.4V568M461.5 528.4V563.8M462.5 507.7V514.4M462.5 520.3V529.6M462.5 532.7V558M463.5 491.3V500.6M463.5 518.3V543.5M463.5 544.4V569.3M464.5 509.7V541.3M464.5 549V567.1M464.5 592V598.4M465.5 522.4V555.7M465.5 561.4V574.6M466.5 499V522M466.5 530.7V546.5M466.5 571.4V584.6M467.5 500.7V530M467.5 536.9V571.1M468.5 499.8V554.4M468.5 558.6V571.3M469.5 517.2V561.4M469.5 570.4V585.3M470.5 454.6V496.9M470.5 522.5V551.9M470.5 553.2V576.7M470.5 580.8V597.8M471.5 479.3V527.7M472.5 486.4V498.9M472.5 499.1V515.1M472.5 516.8V547.8M472.5 560.4V583.5M473.5 460.9V525.8M474.5 417V532.7M475.5 490.7V552.1M475.5 588.7V603.9M476.5 452.3V513.9M476.5 533.6V555.6M477.5 465.5V535.8M477.5 564.2V580.8M478.5 485.6V525M478.5 540.3V560.4M479.5 468.6V509M479.5 522.8V547.5M479.5 586.3V603.9M480.5 479.3V541.6M480.5 551.8V562.5M481.5 489.2V545.7M481.5 582.2V598.3M482.5 514.6V559.6M483.5 495.4V504.4M483.5 534V554.3M483.5 563.6V577.9M484.5 503.2V513.4M484.5 513.8V535.3M484.5 544.3V563M484.5 580.9V596.1M485.5 503.5V534.9M485.5 545.7V561.2M486.5 499.3V539.4M487.5 501V522.6M487.5 579.9V589.6M488.5 510.6V544.1M488.5 555.5V566.6M488.5 585.1V592.4M489.5 516.3V520.7M489.5 526.7V537.8M489.5 554.7V572.9M490.5 515V518.3M490.5 538.5V552.8M490.5 555.3V563.7M490.5 566.5V575.1M491.5 517.2V537.6M492.5 500.9V519.4M492.5 565.3V570M492.5 577.5V586.1M493.5 522V548.6M493.5 555V561.9M494.5 500.5V517.4M494.5 521.1V535.6M495.5 523.3V541.1M495.5 545.2V556M496.5 514V534.9M497.5 500.5V505.3M497.5 512.5V523.8M497.5 535.3V548.1M497.5 554.8V562M498.5 512.6V523.3M498.5 523.3V534.2M498.5 541.1V547.6M499.5 533.9V545.7M499.5 584.6V603.3M500.5 413V623M501.5 594V625M502.5 600.5V616.6M503.5 609.2V621.8M504.5 606.2V615.3M505.5 609.7V615.3M505.5 616.6V622.6M506.5 607.6V619.9M507.5 607.1V612.4M507.5 622.1V627M508.5 609.7V611.5M508.5 611.8V617.4M508.5 618.2V621.8M508.5 627.5V630.7M509.5 601V617.6M510.5 562V616.7M511.5 605.6V607.3M511.5 607.5V612.4M511.5 616.9V622.4M511.5 627.2V630.2M512.5 600.6V602.2M512.5 604V611.3M512.5 616.5V620.2M513.5 609.9V613.4M513.5 613.6V620.6M514.5 608.1V612.1M514.5 612.6V618.3M514.5 620.8V624.1M515.5 604.3V609.2M515.5 615.3V618.7M515.5 619.3V622.5M515.5 623.5V625.2M516.5 609.4V615M517.5 606.8V618.6M518.5 604.6V613.1M518.5 615V617.7M519.5 599.6V602.9M519.5 604.7V608M519.5 613.2V618.1M520.5 598.2V599.9M520.5 600.4V606.9M520.5 610.5V613.3M521.5 602.6V603.7M521.5 607.5V609.7M521.5 611.6V616.9M522.5 605V616.4M523.5 606.3V615.6M524.5 607.9V613.3M524.5 613.4V617.2M524.5 625.7V627.9M525.5 604.3V605.5M525.5 610.9V616.5M526.5 607.3V613M526.5 620.8V623.4M527.5 590.6V591M527.5 602.2V615.1M528.5 614.2V615.4M528.5 616.1V619M528.5 620.4V622.5M528.5 628.2V629.9M529.5 611.3V612.6M529.5 617.7V621.7M529.5 625.4V627.3M530.5 608.2V609.7M530.5 610.5V615.7M531.5 602.2V605.7M531.5 608V610.7M531.5 612.3V615M532.5 606.5V607.8M532.5 612.5V615.8M532.5 616.7V620.3M532.5 623.7V626.2M533.5 609.8V611M533.5 615.3V618.2M533.5 618.9V621.6M533.5 626.2V627.8M534.5 608.1V612.5M534.5 615.5V620.9M535.5 604.4V617.2M536.5 600.8V602.4M536.5 603.8V607.9M536.5 609.7V615.4M537.5 604.6V611.6M537.5 617.4V619.2M538.5 605.4V610.3M538.5 613.8V616.8M538.5 618.1V621.3M539.5 593.6V594M539.5 608.4V615.6M539.5 618.1V620.4M540.5 611.6V614.7M540.5 616.4V619.8M540.5 621.2V623.1M541.5 599.8V601.8M541.5 602.7V606.4M541.5 607.7V613.6M541.5 621.9V624M542.5 607.1V611.9M542.5 614V617M542.5 629.5V631M543.5 604.7V611.8M543.5 614.8V617.6M543.5 627.8V629.8M544.5 602.3V606.1M544.5 609.5V615M545.5 605.6V607.5M545.5 610.1V612.9M545.5 615V617.7M545.5 620.5V623M545.5 624.6V627.2M546.5 613.7V615.1M546.5 615.7V618.3M546.5 620.3V622.8M546.5 628.4V630M547.5 594V620.4M548.5 609.6V618.6M548.5 627.7V629.5M549.5 610.6V614.8M549.5 614.9V617.3M549.5 621V623.1M550.5 611.4V614.9M550.5 616.5V620M551.5 612.5V613.2M551.5 614.1V619.2M551.5 620.3V622.7M552.5 609.5V617.5M552.5 618.8V620.6M553.5 611.2V614.5M553.5 617.8V623.4M554.5 609.8V617.5M555.5 613.4V616.2M555.5 623.7V625.9M556.5 615.8V618.8M556.5 619.6V621.6M556.5 624.3V626.5M557.5 611.2V618.1M557.5 622.2V624.3M557.5 627.4V629.5M558.5 606.6V607.9M558.5 611V615.6M558.5 618.4V622.3M559.5 615.8V616.7M559.5 619.3V622.2M559.5 625.1V627.1M560.5 595.6V596M560.5 606.1V615.4M560.5 616.1V618.8M561.5 611.5V616.1M561.5 616.3V619M562.5 607.6V612.4M562.5 615V617.9M562.5 625.4V627.8M563.5 610.6V611.9M563.5 612.8V615.3M563.5 617.4V620.1M564.5 609.4V613.9M564.5 614.2V617.4M564.5 617.6V622.3M565.5 612.8V613.9M565.5 614.9V618.7M565.5 619.9V623M566.5 608.2V611.9M566.5 613.3V617.2M566.5 618.4V621.2M567.5 613.2V618.6M568.5 609.6V610.8M568.5 613.5V618.8M568.5 620.5V622.8M569.5 608.1V611.4M569.5 615.2V618.8M569.5 628.7V630.1M570.5 607.9V612.6M570.5 617.7V621M571.5 617.1V620.4M571.5 628.2V630.1M572.5 609.1V611.9M572.5 616.2V617.9M572.5 622.4V623.8M572.5 626.5V628.5M573.5 595.6V596M573.5 614.4V617.6M573.5 623.4V625.7M574.5 612.2V613.2M574.5 615.4V620.1M574.5 624.1V626.2M575.5 610.1V611.4M575.5 616.7V622.6M576.5 612.5V615.7M576.5 616.7V621.5M576.5 628.4V630.1M577.5 608.4V611.4M577.5 616.9V619.8M577.5 620.3V622M578.5 598.6V599M578.5 608.5V612.7M578.5 616.3V621M578.5 628.4V630.1M579.5 609.9V613.4M579.5 617V620.8M580.5 609.6V615.4M581.5 608.2V612M581.5 613.3V618.8M582.5 620.2V622.4" stroke="#5cc48c" stroke-width="1" fill="none" shape-rendering="crispEdges"/>
</g>
<path d="M17.4 606 18 616 18.1 619 18.8 619.8 19.5 624.5 20 628 20.2 630.2 20.9 633.3 21 634 21.6 630.5 22.3 635.9 22.6 633 23 640.2 23.7 649.3 24 654 24.4 651.5 25.1 646.6 25.8 639.3 26 638 26.5 638.5 27.2 634.8 27.4 636 27.9 639.2 28.6 640.9 28.6 642 29.3 637.1 30 634.2 30 635 30.7 637 31.4 644.2 32 648 32.1 647.6 32.8 646.4 33.5 647.9 34 647 34.2 647.2 34.9 651 35.6 654.2 36.3 654.6 36.6 656 37 655.2 37.7 652.7 38.4 651.7 39 648 39.1 646.8 39.8 645.3 40.5 642.7 41.2 644.5 41.9 644 42 643 42.6 646.3 43.3 646.5 44 647.4 44.7 648.1 45 648 45.4 646.9 46.1 651.7 46.8 653.4 47 653 47.5 653.5 48.2 652.6 48.9 654.2 49.6 652.3 50 653 50.3 654.1 51 653.7 51.7 657.3 52.4 657.6 53 659 53.1 658.2 53.8 660.6 54.5 659.9 55 659 55.2 659.7 55.9 660 56.6 660.1 57.3 654.3 58 657.4 58 656 58.7 653.4 59.4 649.5 60 649 60.1 647.3 60.8 652.6 61.5 656 62.2 653.9 62.9 658.2 63 659 63.6 659.2 64.3 660.8 65 661.4 65.7 655.5 66 658 66.4 658.3 67.1 658.2 67.8 655.1 68 654 68.5 655.7 69.2 657 69.9 658.4 70 659 70.6 659.3 71.3 658.9 72 657.9 72.7 657.4 73 657.6 73.4 656.9 74.1 659.5 74.8 657.5 75.5 655.7 76.2 659.9 76.9 658.8 77 658 77.6 658.2 78.3 657.6 79 656.3 79.7 660.7 80.4 661.5 81 659 81.1 658 81.8 659.9 82.5 657.8 83.2 658.6 83.9 658.5 84 659 84.6 663.6 85.3 665.5 86 670.3 86 669 86.7 670.2 87.4 667.4 88.1 669.1 88.8 672.9 89 672 89.5 672.3 90.2 671.5 90.9 671.9 91 670 91.6 671.6 92.3 670.2 93 669.5 93.7 669.7 94.4 670.2 95 671 95.1 670.3 95.8 671 96.5 671.6 97.2 671 97.9 668.9 98.6 671.6 99.3 672.2 100 673.5 100 672 100.7 670.8 101.4 670.4 102.1 673.9 102.8 671.9 103.5 673.1 104.2 673.3 104.9 668.9 105 670 105.6 670.6 106.3 670.8 107 670.8 107.7 670.3 108.4 670.2 109 670 109.1 669.7 109.8 668.7 110.5 669.7 111.2 668.6 111.9 669.9 112 669 112.6 668.2 113.3 666.9 114 665.1 114 665 114.7 664.4 115.4 663.6 116.1 664.6 116.8 663.7 117 663.6 117.5 660.9 118.2 663.1 118.9 659.6 119.6 658.5 120 659 120.3 656.8 121 654.9 121.7 650.4 122 650 122.4 648.3 123.1 651 123.8 648.3 124 648 124.5 649 125.2 647.9 125.9 654.5 126 652 126.6 651 127.3 649 128 643.6 128 646 128.7 643.7 129.4 638.8 129.4 638 130.1 634.9 130.8 628.7 131 627 131.5 628.3 132.2 631.7 132.9 631 133 633 133.6 634 134.3 635.2 134.6 638 135 642.9 135.6 643 135.7 642.1 136.4 643.8 137.1 641.5 137.6 642 137.8 640.9 138.5 632.2 139 633 139.2 631.7 139.9 634 140.6 634.5 141 638 141.3 636.7 142 640.4 142.7 642.5 143 640 143.4 641.6 144.1 639 144.8 636.5 145 639 145.5 640.3 146.2 639.5 146.9 641.4 147 641 147.6 639.2 148.3 637.9 149 639.6 149 640 149.7 645.7 150 649 150.4 651.5 151.1 648 151.8 649.5 152.5 649.7 153 648 153.2 650.1 153.9 649.2 154.6 652.4 155 652 155.3 652.1 156 647 156.7 646.2 157 644 157.4 644.8 158.1 643.6 158.8 647.4 159 645 159.5 647.1 160.2 648 160.9 647.8 161 650 161.6 651.7 162.3 650.8 163 654.9 163 654 163.7 651.1 164.4 652.7 165 653.6 165.1 654.7 165.8 654.8 166.5 655.5 167 656 167.2 655.4 167.9 656.5 168.6 653.8 169 653 169.3 654 170 651.9 170.7 652.7 171 654 171.4 653.3 172.1 650.3 172.8 649.1 173 648 173.5 647.9 174.2 645.7 174.9 646.5 175 646 175.6 647.3 176.3 643.2 177 640.5 177 643 177.7 641.7 178.4 641.9 179 641 179.1 641.7 179.8 644.5 180.5 639.6 181 642 181.2 642 181.9 644.6 182.6 643 183 647 183.3 648.4 184 649.1 184.4 650 184.7 653.1 185.4 664.3 185.4 664 186.1 660.2 186.8 657.4 187 658 187.5 658.2 188.2 659.9 188.9 659.1 189 659 189.6 658.1 190.3 660.4 191 657 191 655 191.7 655.1 192.4 654.4 193 656 193.1 655.5 193.8 657 194.5 653.7 195 651 195.2 650.5 195.9 647.3 196.6 645.2 197 643 197.3 644 198 642.9 198.7 646 199 644 199.4 643.7 200.1 642.1 200.8 642.2 201 643 201.5 640.5 202.2 644.7 202.9 643.9 203 643 203.6 645.2 204.3 644.6 205 645 205 644.4 205.7 644.2 206.4 645.6 207.1 647.5 207.8 647.5 208 645 208.5 643.1 209.2 642.5 209.9 645.9 210.6 645 211 645 211.3 644.3 212 643.9 212.7 640 213 642 213.4 639.6 214.1 638.2 214.8 635.6 215 634 215.5 634.1 216.2 632.8 216.9 633.4 217.6 632.3 218 631 218.3 630.1 219 634.5 219.7 631.7 220 632 220.4 634.1 221.1 634.9 221.8 637 222 639 222.5 638.9 223.2 638.9 223.9 634.9 224 637 224.6 637 225.3 640.2 226 634.5 226.7 638.7 227 638 227.4 638.3 228.1 636.1 228.8 636.8 229 636 229.5 635.9 230.2 635 230.9 633.8 231 633 231.6 631.9 232.3 628.1 233 624.5 233 626 233.7 623.1 234.4 622.5 235 619 235.1 617.5 235.8 618.2 236.5 614.2 237 610 237.2 610 237.9 604.4 238 604 238.6 599.3 238.9 597.8 239.3 597.6 240 593.9 240.3 596.4 240.7 597.2 241 603 241.4 599.4 242.1 597.2 242.4 599 242.8 596.8 243.5 589.7 243.8 592 244.2 587.2 244.4 578 244.9 578.3 245.6 566.9 245.8 567 246.3 561.4 247 552.2 247 554.7 247.7 527.3 248.4 494.8 248.5 493 249.1 505.8 249.8 529.6 250.3 545 250.5 541.5 251.2 543.2 251.8 544 251.9 545.2 252.6 535.1 253 525 253.3 518.9 254 513 254.5 505 254.7 499.4 255.4 487.5 256 470 256.1 469.1 256.8 454.7 257.2 448 257.5 445.5 258.2 455.6 258.5 458 258.9 475 259.5 480 259.6 477.3 260.3 454.3 260.3 455 261 428.7 261 426 261.7 412.9 262.4 408.2 262.5 404 263.1 406.7 263.8 426.7 264 426 264.5 422.1 265.2 414.2 265.6 410.6 265.9 408.1 266.6 415.5 267 417 267.3 406.2 268 401.7 268.6 386 268.7 383.5 269.4 401.3 270 413.6 270.1 415.6 270.8 414.9 271.5 428.5 271.7 426 272.2 422.2 272.9 411.3 273.2 410.6 273.6 418.4 274.3 420 274.8 423 275 431.2 275.7 483.5 275.7 481 276.4 490.1 277.1 502.1 277.8 508.4 277.8 511.5 278.5 504.6 279.2 503.7 279.3 502 279.9 508 280.6 522 280.9 524 281.3 517 282 506.6 282.4 496 282.7 502.6 283.4 520.5 284 533 284.1 534.6 284.8 524.7 285.5 528.1 285.5 524 286.2 530.5 286.9 534.3 287 539 287.6 543.5 288 541 288.3 538.3 289 519.9 289.4 517.6 289.7 514.1 290.4 507.5 291.1 508.6 291.6 501.6 291.8 498.3 292.5 488.7 293.2 472.7 293.4 472.7 293.9 466.7 294.6 467.3 295.2 462 295.3 463.6 296 462.5 296.7 452.2 297 454.7 297.4 457.6 298.1 456.6 298.8 463.7 298.8 465.5 299.5 461 300.2 452.7 300.6 444 300.9 448 301.6 463.7 302.3 469.8 302.4 472.7 303 482.5 303.7 483.3 304.2 489 304.4 483.5 305.1 466.6 305.8 447.2 306 440 306.5 429.8 307.2 403.9 307.9 390.5 307.9 393 308.6 374.1 308.9 371.7 309.3 370.3 310 378.3 310.4 386 310.7 380.2 311.4 382 311.8 379 312.1 375.1 312.8 373.7 313.3 362.6 313.5 361.5 314.2 378.9 314.7 389.7 314.9 394.8 315.6 393.5 316.2 404 316.3 407.6 317 406.3 317.6 422 317.7 429.3 318.4 429.3 319 440 319.1 437.5 319.8 448.8 320.5 448.8 320.5 454.7 321.2 444.1 321.9 441.5 322.3 444 322.6 456.1 323.3 454.5 324 468 324 465.5 324.7 471.9 325.4 482.6 326 487 326.1 484.5 326.8 497.2 327.5 503.9 327.7 505 328.2 512 328.9 515 329.5 512.5 329.6 515 330.3 496.5 331 481.5 331.3 476 331.7 481.9 332.4 491.3 333 498 333.1 500.5 333.8 492.8 334.5 478.4 335 478 335.2 483.6 335.9 483.5 336.6 493.5 336.7 494 337.3 497.1 338 498 338.5 505 338.7 498.6 339.4 490.1 340.1 478.6 340.3 476 340.8 467.6 341.5 467.2 342 463.7 342.2 466.8 342.9 470.8 343.6 472 344 476 344.3 477.8 345 487.5 345.7 492.7 345.8 494 346.4 496.4 347.1 500.6 347.6 501.6 347.8 500.5 348.5 504.2 349.2 507.5 349.4 505 349.9 508.9 350.6 523.4 351 534 351.3 543.4 352 544.4 352.5 548 352.7 547 353.4 542.5 354 545 354.1 547.2 354.8 541.8 355.5 534.6 355.8 536.7 356.2 534.6 356.9 545.5 357 543 357.6 553.5 358.3 567.4 358.3 570 359 594.4 359 596.7 359.7 590.2 360.4 590.7 360.8 586.7 361.1 586.9 361.8 588.4 362.5 593.5 362.5 593 363.2 589.5 363.9 586.2 364 586.7 364.6 581 365.3 584.3 365.8 578 366 574.8 366.7 578.6 367.4 577.2 367.5 573 368.1 572.4 368.8 576.2 369 576.7 369.5 574.9 370.2 577.9 370.8 573 370.9 574 371.6 579.4 372.3 583.5 372.5 585 373 589.2 373.7 589.6 374 591.7 374.4 597.5 375.1 594.6 375.8 594.6 375.8 595 376.5 590.9 377.2 584.3 377.5 585 377.9 585.9 378.6 591.8 379 595.8 379.3 595.4 380 593.7 380.7 593.9 380.8 595 381.4 598.1 382.1 594.8 382.5 596.7 382.8 601.5 383.5 597.1 384 599 384.2 600.8 384.9 594.2 385.6 587.9 385.8 590 386.3 590.9 387 590.7 387.5 588 387.7 591.8 388.4 596.2 388.7 595 389.1 601.6 389.8 605.3 390 606.7 390.5 607 391.2 612.5 391.7 610 391.9 606.3 392.6 609.4 393.3 608.3 394 607.6 394 608 394.7 603.5 395.4 606.6 395.8 604 396.1 603.9 396.8 605.1 397.5 606.5 397.5 608 398.2 609.1 398.9 607.2 399.6 606.9 400 609 400.3 610.7 401 608.3 401.7 607.9 402.4 606.1 402.5 606.7 403.1 600.5 403.8 588.2 404 590 404.5 584.9 405.2 580.7 405.8 578 405.9 578.4 406.6 577.2 407.3 574.9 407.5 576 408 578.8 408.7 584.3 409 583 409.4 583.6 410.1 573.5 410.8 570 410.8 571.7 411.5 574.3 412.2 578.5 412.5 578 412.9 578.8 413.6 582.7 414 590 414.3 580.6 415 564.2 415 566.7 415.7 560.2 416.4 552.5 416.7 555 417.1 552 417.8 549.5 418.3 551.7 418.5 555.1 419.2 550.5 419.9 551.1 420 555 420.6 555 421.3 547.8 421.7 546.7 422 547.2 422.7 551.9 423.3 550 423.4 549.4 424.1 549.6 424.8 559.2 425 556.7 425.5 558 426.2 553.7 426.7 553 426.9 550.5 427.6 558.6 428.3 558.4 428.3 561.7 429 558.8 429.7 558.6 430 559 430.4 561 431.1 560.3 431.7 560 431.8 561.5 432.5 558 433.2 559.9 433.3 556.7 433.9 554.2 434.6 564.2 435 568 435.3 566 436 556.9 436.7 552.3 436.7 550 437.4 547.6 438.1 541.4 438.3 541.7 438.8 542.1 439.5 539.5 440.2 538.3 440.8 540.8 440.9 543.6 441.6 544.1 442.3 545 443 546.4 443.5 546 443.7 546.9 444.4 549.7 445.1 552.1 445.8 548.5 446.5 549.8 447 549.6 447.2 554.6 447.9 553.2 448.6 555.4 449.3 556.9 450 555.8 450.4 560 450.7 559.7 451.4 557.5 452.1 561.3 452.8 558.1 453.5 560.5 454 563.5 454.2 560.8 454.9 564.3 455.6 556.6 456.3 559.4 457 558.7 457.4 556.5 457.7 559.1 458.4 558.1 459.1 558.4 459.8 558.7 460.5 562.4 461 560 461.2 557.4 461.9 542.2 462.6 529.4 462.6 528.7 463.3 531.2 464 521.1 464.7 520.9 465.4 518.1 466 514.8 466.1 516 466.8 514.5 467.5 514.8 468.2 506.1 468.9 509.2 469.6 505.3 469.6 507.8 470.3 496.1 471 488.6 471.7 483.3 472 480 472.4 482.4 473.1 482.4 473.8 486 474.5 480.1 474.8 483.5 475.2 479.7 475.9 475.8 476.5 473 476.6 475.5 477.3 466.3 478 475.5 478.7 472.2 479 466 479.4 470.8 480.1 483.8 480.8 482.1 481 483.5 481.5 490.2 482.2 494.3 482.4 501 482.9 496.5 483.6 492.1 484.3 486.4 484.5 483.5 485 474.1 485.7 446.5 486 441.7 486.4 437.5 487.1 442.4 487.8 437.6 488.5 440.3 488.7 440 489.2 411.6 489.7 400 489.9 397.2 490.6 388.7 491.3 369.5 491.5 372 492 359.5 492.7 350.3 493.2 342.6 493.4 341.4 494.1 357.7 494.8 366.9 495 365 495.5 355.9 496.2 353.4 496.7 348 496.9 345.5 497.6 359.3 498.3 361.4 498.4 361.7 499 372.5 499.7 374.5 499.8 372 500.4 374.3 501.1 368.8 501.2 365 501.8 370.9 502.5 385.1 502.6 382.6 503.2 399.9 503.7 414 503.9 416.5 504.6 406.4 505.3 394.9 505.4 389.6 506 385.7 506.7 374.8 507.4 362.6 507.8 358 508.1 358.6 508.8 349.1 509.5 354.4 509.6 348 510.2 354.3 510.9 348.8 511.3 358 511.6 356.3 512.3 362 513 363.7 513 372 513.7 378.2 514.4 386.7 514.8 389.6 515.1 393.2 515.8 405.4 516 406 516.5 413.5 517.2 420.4 517.2 422 517.9 403.8 518.6 381.5 518.6 384 519.3 375.2 520 378.2 520 375 520.7 366.8 521 360.7 521.4 358.2 521.9 368 522.1 377.8 522.8 416 523 429.5 523.5 415.1 524 402 524.2 400 524.9 409.4 525 409.6 525.6 406.6 525.8 406 526.3 393.9 526.8 384 527 384.7 527.7 404.6 527.7 406 528.4 412 529 413 529.1 416.1 529.8 425.9 530.2 432 530.5 412.8 531.2 419.2 531.3 407.8 531.9 402.7 532.2 400.5 532.6 389.8 533 389.7 533.3 385.5 534 386.6 534 388 534.7 383.4 535 380.6 535.4 389.1 535.8 398.7 536.1 389 536.7 382.4 536.8 382.6 537.5 380.6 537.6 373.4 538.2 373.1 538.5 366 538.9 363.5 539.4 369.8 539.6 372.3 540.3 369.3 540.3 362.5 541 343.2 541.2 344.5 541.7 340 542 339 542.4 325.9 543 300 543.1 295.8 543.8 258.5 544 248 544.5 238.6 545.2 224.7 545.6 218.5 545.9 222.5 546.6 230.6 546.8 231.5 547.3 226.9 548 214.3 548 215 548.7 210.9 549.2 203 549.4 216 549.9 229 550.1 219.9 550.8 191.7 551 181.8 551.5 199.2 552 222 552.2 236.3 552.9 228.7 553.2 243 553.6 238.2 554.3 221.7 554.4 217.3 555 237.1 555.6 248 555.7 245.6 556.4 232.5 556.7 203 557.1 199.7 557.8 187.9 557.9 189 558.5 188.1 559 184 559.2 182.6 559.8 196 559.9 198.5 560.5 185 560.6 199.5 561.3 209.6 561.7 212.5 562 214.7 562.7 227.5 562.9 229 563.4 219.5 564 222 564.1 221.7 564.8 226.5 565.3 231.5 565.5 245.9 566.2 256.6 566.4 257.5 566.9 268.4 567.4 285.8 567.6 281.5 568.3 274.5 568.6 269 569 288.5 569.3 304.8 569.7 299.2 570.4 281 570.5 283.5 571.1 272.1 571.6 269 571.8 266.7 572.5 286.1 572.8 293 573.2 287.6 573.9 273.9 574 276.4 574.6 297.1 575.2 316.6 575.3 318.2 576 295.3 576.4 285.8 576.7 288.3 577.4 283.4 577.6 281 578.1 264.5 578.7 241 578.8 238.8 579.5 239.4 580 236 580.2 232.6 580.9 214.8 581 217.3 581.6 208.5 582.3 193.6" fill="none" stroke="#5a50c8" stroke-width="1.35" stroke-linejoin="round"/>
<line x1="16.7" y1="689.6" x2="583.2" y2="689.6" stroke="#111" stroke-width="1.6"/>
</svg>
<div class="xlw"><div class="xl" style="left:-39.6px">2018-01-23</div><div class="xl" style="left:77.9px">2019-07-28</div><div class="xl" style="left:193.7px">2021-01-29</div><div class="xl" style="left:309.5px">2022-08-03</div><div class="xl" style="left:425.3px">2024-02-05</div></div>
</body></html>
